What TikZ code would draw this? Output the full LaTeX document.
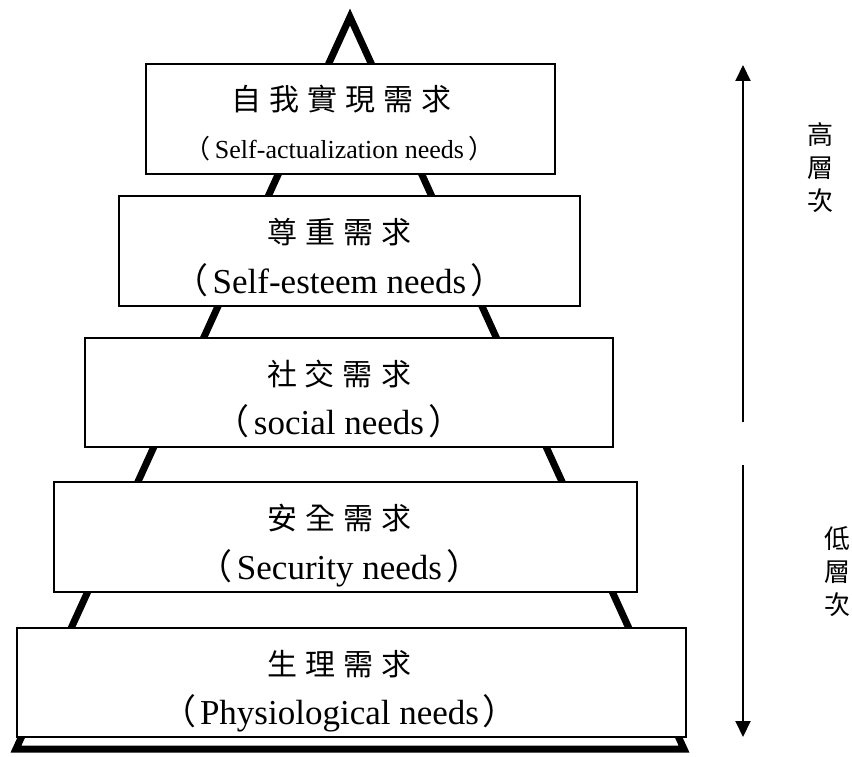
\documentclass[tikz,border=0pt]{standalone}
\usepackage{fontspec}
\setmainfont{Liberation Serif}
\newfontfamily\zh{Noto Sans CJK TC}
\usetikzlibrary{arrows.meta}
\newcommand\zsp{\hspace{8pt}}
\newcommand\lp{{\zh （}\hspace{4pt}}
\newcommand\rp{\hspace{4pt}{\zh ）}}
\tikzset{
  levelbox/.style={draw=black, line width=2.2pt, fill=white, inner sep=0pt},
  zhline/.style={font=\zh\fontsize{30}{32}\selectfont, inner sep=0pt},
  enline/.style={font=\fontsize{35}{38}\selectfont, inner sep=0pt, anchor=base},
  ensmall/.style={font=\fontsize{26}{28}\selectfont, inner sep=0pt, anchor=base},
  sidelbl/.style={font=\zh\fontsize{26}{33}\selectfont, align=center, inner sep=0pt},
  levelarrow/.style={line width=2pt, -{Triangle[width=15pt,length=16pt]}},
  pyramid/.style={line width=7pt, line join=miter, miter limit=10}
}
\begin{document}
\begin{tikzpicture}[x=1pt,y=-1pt]
\useasboundingbox (0,0) rectangle (852,757);
% pyramid outline
\coordinate (apex) at (350,17);
\coordinate (bl) at (16,749);
\coordinate (br) at (684,749);
\draw[pyramid] (apex) -- (bl) -- (br) -- cycle;
% level boxes
\node[levelbox, minimum width=409pt, minimum height=110pt] (b1) at (350.5,119) {};
\node[levelbox, minimum width=461pt, minimum height=110pt] (b2) at (349.5,251) {};
\node[levelbox, minimum width=528pt, minimum height=109pt] (b3) at (349,392.5) {};
\node[levelbox, minimum width=583pt, minimum height=110pt] (b4) at (345.5,537) {};
\node[levelbox, minimum width=669pt, minimum height=109pt] (b5) at (351.5,682.5) {};
% texts
\node[zhline] (z1) at ([xshift=-9pt,yshift=-36pt]b1.north) {自\zsp 我\zsp 實\zsp 現\zsp 需\zsp 求};
\node[ensmall] (e1) at ([xshift=-11pt,yshift=17pt]b1.south) {\lp Self-actualization needs\rp};
\node[zhline] (z2) at ([xshift=-10pt,yshift=-37pt]b2.north) {尊\zsp 重\zsp 需\zsp 求};
\node[enline] (e2) at ([xshift=-10pt,yshift=14pt]b2.south) {\lp Self-esteem needs\rp};
\node[zhline] (z3) at ([xshift=-10pt,yshift=-37pt]b3.north) {社\zsp 交\zsp 需\zsp 求};
\node[enline] (e3) at ([xshift=-10pt,yshift=14pt]b3.south) {\lp social needs\rp};
\node[zhline] (z4) at ([xshift=-6pt,yshift=-37pt]b4.north) {安\zsp 全\zsp 需\zsp 求};
\node[enline] (e4) at ([xshift=-6pt,yshift=14pt]b4.south) {\lp Security needs\rp};
\node[zhline] (z5) at ([xshift=-12pt,yshift=-37pt]b5.north) {生\zsp 理\zsp 需\zsp 求};
\node[enline] (e5) at ([xshift=-12pt,yshift=14pt]b5.south) {\lp Physiological needs\rp};
% side arrows
\coordinate (hiS) at (743,422);
\coordinate (hiE) at (743,65);
\coordinate (loS) at (743,465);
\coordinate (loE) at (743,737);
\draw[levelarrow] (hiS) -- (hiE);
\draw[levelarrow] (loS) -- (loE);
\node[sidelbl] (hi) at (820,168) {高\\層\\次};
\node[sidelbl] (lo) at (837,572) {低\\層\\次};
\end{tikzpicture}
\end{document}
